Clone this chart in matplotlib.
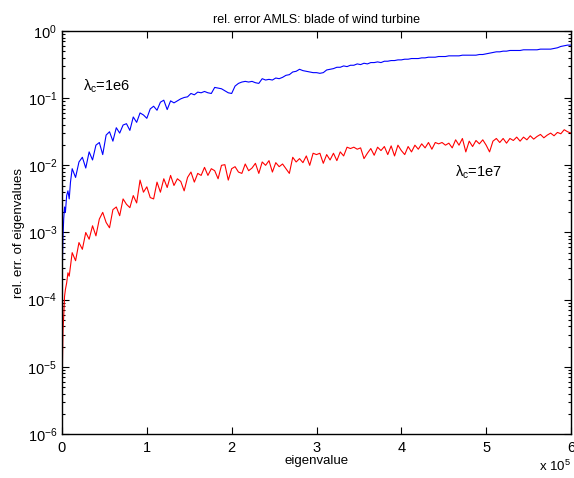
import numpy as np
import matplotlib
matplotlib.use("Agg")
import matplotlib.pyplot as plt
from matplotlib.ticker import LogLocator, NullFormatter

plt.rcParams['font.family'] = ['Liberation Sans', 'DejaVu Sans']
plt.rcParams['mathtext.fontset'] = 'custom'
plt.rcParams['mathtext.rm'] = 'Liberation Sans'
plt.rcParams['mathtext.it'] = 'Liberation Sans:italic'
plt.rcParams['mathtext.default'] = 'regular'

# eigenvalue (in units of 1e5)
eigenvalue = [
    0.002, 0.006, 0.012, 0.02, 0.03, 0.04, 0.055, 0.07, 0.085, 0.10,
    0.12, 0.16, 0.20, 0.24, 0.28, 0.32, 0.36, 0.40, 0.44, 0.48,
    0.52, 0.56, 0.60, 0.64, 0.68, 0.72, 0.76, 0.80, 0.84, 0.88,
    0.92, 0.96, 1.00, 1.04, 1.08, 1.12, 1.16, 1.20, 1.24, 1.28,
    1.32, 1.36, 1.40, 1.44, 1.48, 1.52, 1.56, 1.60, 1.64, 1.68,
    1.72, 1.76, 1.80, 1.84, 1.88, 1.92, 1.96, 2.00, 2.04, 2.08,
    2.12, 2.16, 2.20, 2.24, 2.28, 2.32, 2.36, 2.40, 2.44, 2.48,
    2.52, 2.56, 2.60, 2.64, 2.68, 2.72, 2.76, 2.80, 2.84, 2.88,
    2.92, 2.96, 3.00, 3.04, 3.08, 3.12, 3.16, 3.20, 3.24, 3.28,
    3.32, 3.36, 3.40, 3.44, 3.48, 3.52, 3.56, 3.60, 3.64, 3.68,
    3.72, 3.76, 3.80, 3.84, 3.88, 3.92, 3.96, 4.00, 4.04, 4.08,
    4.12, 4.16, 4.20, 4.24, 4.28, 4.32, 4.36, 4.40, 4.44, 4.48,
    4.52, 4.56, 4.60, 4.64, 4.68, 4.72, 4.76, 4.80, 4.84, 4.88,
    4.92, 4.96, 5.00, 5.04, 5.08, 5.12, 5.16, 5.20, 5.24, 5.28,
    5.32, 5.36, 5.40, 5.44, 5.48, 5.52, 5.56, 5.60, 5.64, 5.68,
    5.72, 5.76, 5.80, 5.84, 5.88, 5.92, 5.96, 6.00,
]

# log10 of relative error, lambda_c = 1e6 (blue)
log10_err_1e6 = [
    -3.70, -3.40, -3.05, -2.80, -2.62, -2.70, -2.45, -2.38, -2.50, -2.25,
    -2.05, -2.18, -1.95, -1.88, -2.04, -1.80, -1.92, -1.70, -1.66, -1.84,
    -1.55, -1.50, -1.64, -1.44, -1.52, -1.40, -1.38, -1.48, -1.28, -1.36,
    -1.22, -1.25, -1.30, -1.16, -1.12, -1.18, -1.06, -1.03, -1.17, -1.04,
    -1.07, -1.04, -1.01, -0.99, -0.98, -0.93, -0.95, -0.91, -0.92, -0.90,
    -0.92, -0.93, -0.84, -0.85, -0.86, -0.89, -0.92, -0.93, -0.82, -0.78,
    -0.76, -0.75, -0.76, -0.75, -0.77, -0.78, -0.71, -0.73, -0.72, -0.73,
    -0.70, -0.71, -0.69, -0.66, -0.65, -0.61, -0.60, -0.57, -0.59, -0.60,
    -0.61, -0.62, -0.62, -0.63, -0.62, -0.58, -0.57, -0.56, -0.54, -0.54,
    -0.52, -0.53, -0.51, -0.51, -0.49, -0.50, -0.48, -0.49, -0.47, -0.47,
    -0.46, -0.47, -0.45, -0.45, -0.44, -0.44, -0.43, -0.43, -0.42, -0.42,
    -0.41, -0.41, -0.41, -0.40, -0.40, -0.39, -0.39, -0.39, -0.38, -0.38,
    -0.38, -0.37, -0.37, -0.37, -0.37, -0.36, -0.36, -0.36, -0.36, -0.36,
    -0.35, -0.35, -0.34, -0.33, -0.32, -0.31, -0.31, -0.30, -0.30, -0.29,
    -0.29, -0.29, -0.29, -0.28, -0.28, -0.28, -0.28, -0.28, -0.27, -0.27,
    -0.27, -0.27, -0.26, -0.25, -0.23, -0.22, -0.21, -0.21,
]

# log10 of relative error, lambda_c = 1e7 (red)
log10_err_1e7 = [
    -5.66, -4.90, -4.45, -4.25, -3.95, -3.85, -3.75, -3.60, -3.65, -3.50,
    -3.30, -3.42, -3.15, -3.25, -3.00, -3.10, -2.90, -3.05, -2.80, -2.70,
    -2.85, -2.93, -2.66, -2.62, -2.75, -2.50, -2.58, -2.63, -2.45, -2.56,
    -2.22, -2.40, -2.32, -2.48, -2.50, -2.25, -2.40, -2.20, -2.33, -2.15,
    -2.30, -2.20, -2.24, -2.38, -2.18, -2.10, -2.25, -2.12, -2.15, -2.03,
    -2.15, -2.05, -2.08, -2.20, -2.00, -1.99, -2.22, -2.05, -2.02, -2.10,
    -2.12, -1.98, -2.08, -2.04, -1.97, -2.12, -1.95, -2.00, -1.93, -2.10,
    -1.96, -2.02, -1.98, -2.05, -2.12, -1.88, -1.95, -1.90, -1.96, -1.86,
    -2.00, -1.82, -1.84, -1.82, -1.97, -1.84, -1.92, -1.82, -1.93, -1.80,
    -1.86, -1.73, -1.75, -1.73, -1.76, -1.74, -1.90, -1.82, -1.75, -1.85,
    -1.73, -1.78, -1.72, -1.84, -1.71, -1.86, -1.70, -1.78, -1.84, -1.72,
    -1.80, -1.70, -1.76, -1.68, -1.74, -1.66, -1.76, -1.66, -1.68, -1.66,
    -1.70, -1.67, -1.74, -1.62, -1.70, -1.60, -1.80, -1.64, -1.72, -1.63,
    -1.68, -1.62, -1.70, -1.80, -1.64, -1.60, -1.66, -1.60, -1.67, -1.60,
    -1.63, -1.58, -1.64, -1.58, -1.62, -1.56, -1.61, -1.57, -1.54, -1.59,
    -1.55, -1.52, -1.56, -1.51, -1.53, -1.47, -1.50, -1.52,
]

x_ticks = [0, 1, 2, 3, 4, 5, 6]
title_text = "rel. error AMLS: blade of wind turbine"

x = np.array(eigenvalue)
err_1e6 = 10.0 ** np.array(log10_err_1e6)
err_1e7 = 10.0 ** np.array(log10_err_1e7)

fig = plt.figure(figsize=(5.74, 4.78), dpi=100)
ax = fig.add_axes([62/574, 1 - 434/478, (571 - 62)/574, (434 - 31)/478])

ax.plot(x, err_1e6, color='#0000ff', lw=0.8)
ax.plot(x, err_1e7, color='#ff0000', lw=0.8)

ax.set_yscale('log')
ax.set_xlim(0, 6)
ax.set_ylim(1e-6, 1)
ax.set_xticks(x_ticks)
ax.set_xticklabels([str(t) for t in x_ticks])
ax.yaxis.set_major_locator(LogLocator(base=10, numticks=10))
ax.yaxis.set_minor_locator(LogLocator(base=10, subs=np.arange(2, 10), numticks=20))
ax.yaxis.set_minor_formatter(NullFormatter())

ax.tick_params(which='both', direction='in', top=True, right=True, labelsize=10.5, width=0.8)
ax.tick_params(which='major', length=5)
ax.tick_params(which='minor', length=2.5)
ax.tick_params(axis='x', pad=5)
for s in ax.spines.values():
    s.set_linewidth(1.0)

ax.set_title(title_text, fontsize=9, pad=6)
ax.set_xlabel('eigenvalue', fontsize=9.5, labelpad=0)
ax.set_ylabel('rel. err. of eigenvalues', fontsize=9.5, labelpad=2)

ax.text(0.25, 10 ** -0.82, 'λ$_\\mathrm{c}$=1e6', fontsize=10.5, va='center', ha='left')
ax.text(4.63, 10 ** -2.10, 'λ$_\\mathrm{c}$=1e7', fontsize=10.5, va='center', ha='left')
ax.text(1.0, -0.08, 'x 10$^{5}$', transform=ax.transAxes, fontsize=9.5, ha='right', va='center')

fig.savefig('out.png', dpi=100)
